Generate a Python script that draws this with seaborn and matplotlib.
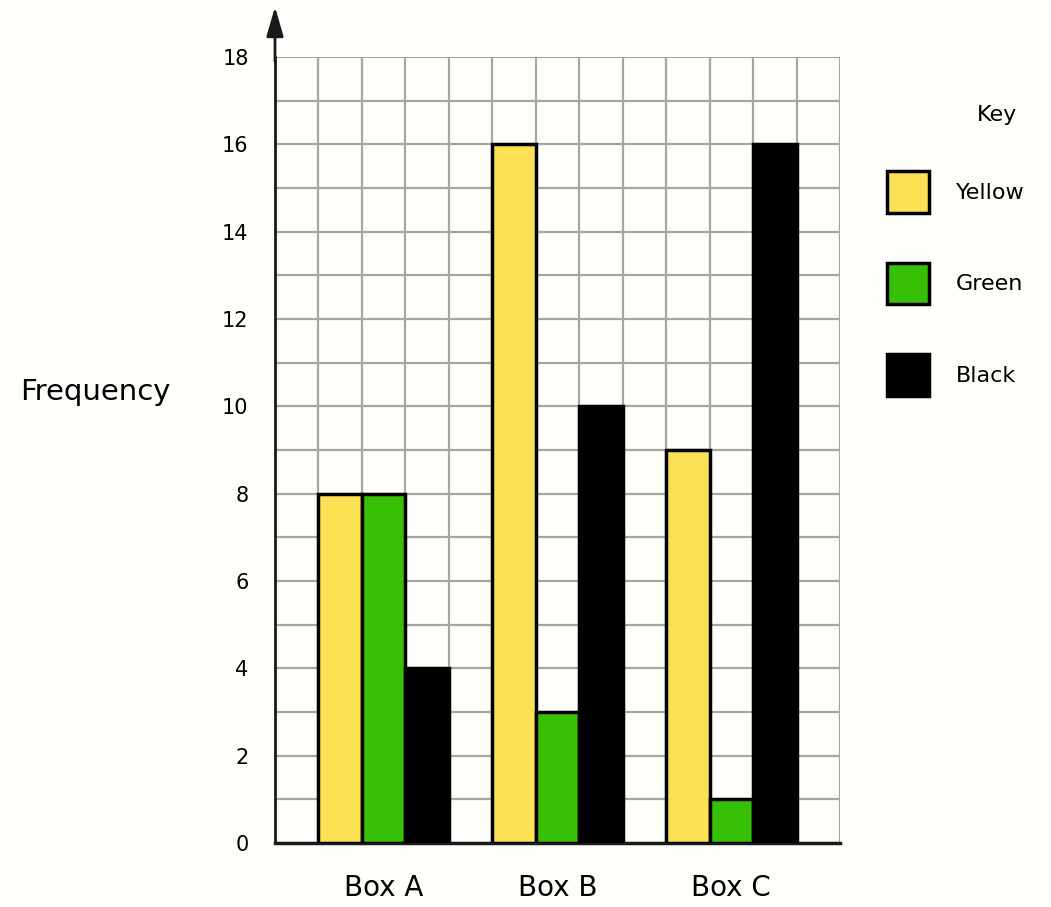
import numpy as np
import pandas as pd
import matplotlib
matplotlib.use('Agg')
import matplotlib.pyplot as plt
from matplotlib.patches import Patch
import seaborn as sns

# Data
boxes = ['Box A', 'Box B', 'Box C']
colours = ['Yellow', 'Green', 'Black']
yellow_counts = [8, 16, 9]
green_counts = [8, 3, 1]
black_counts = [4, 10, 16]
y_ticks = [0, 2, 4, 6, 8, 10, 12, 14, 16, 18]

df = pd.DataFrame({
    'Box': boxes * 3,
    'Colour': [c for c in colours for _ in boxes],
    'Frequency': yellow_counts + green_counts + black_counts,
})

palette = {'Yellow': '#FDE154', 'Green': '#38C006', 'Black': '#000000'}
bg = '#FEFEFB'

sns.set_style('white')
plt.rcParams['font.family'] = ['DejaVu Sans']
plt.rcParams['text.color'] = 'black'
plt.rcParams['xtick.color'] = 'black'
plt.rcParams['ytick.color'] = 'black'

fig = plt.figure(figsize=(10.51, 9.07), dpi=100, facecolor=bg)
ax = fig.add_axes([275 / 1051, 64 / 907, 565 / 1051, 786 / 907])
ax.set_facecolor(bg)

sns.barplot(data=df, x='Box', y='Frequency', hue='Colour', order=boxes,
            hue_order=colours, palette=palette, width=0.75, saturation=1,
            edgecolor='black', linewidth=2.5, legend=False, ax=ax, zorder=3)

# one grid square = one bar width = 0.25 category units
ax.set_xlim(-0.625, 2.625)
ax.set_ylim(0, 18)
ax.set_xticks(np.arange(-0.625, 2.626, 0.25), minor=True)
ax.set_yticks(range(0, 19), minor=True)
ax.set_yticks(y_ticks)
ax.grid(which='minor', color='#A6A6A6', linewidth=1.6, zorder=0)
ax.grid(which='major', axis='y', color='#A6A6A6', linewidth=1.6, zorder=0)
ax.grid(which='major', axis='x', visible=False)
ax.set_axisbelow(True)

ax.tick_params(which='both', length=0)
ax.tick_params(axis='y', labelsize=15, pad=19, labelcolor='black')
ax.tick_params(axis='x', labelsize=20, pad=22, labelcolor='black')
ax.set_xlabel('')
ax.set_ylabel('')

for s in ['top', 'right']:
    ax.spines[s].set_visible(False)
ax.spines['left'].set_color('#1a1a1a')
ax.spines['left'].set_linewidth(2)
ax.spines['bottom'].set_color('#1a1a1a')
ax.spines['bottom'].set_linewidth(2.5)

# arrow at the top of the y axis
ax.annotate('', xy=(-0.625, 19.15), xytext=(-0.625, 17.9),
            arrowprops=dict(arrowstyle='-|>,head_length=0.9,head_width=0.26',
                            color='#1a1a1a', lw=2, mutation_scale=20,
                            shrinkA=0, shrinkB=0),
            annotation_clip=False)

fig.text(95 / 1051, 1 - 392 / 907, 'Frequency', fontsize=21,
         ha='center', va='center', color='black')

# Key
fig.text(997 / 1051, 1 - 115 / 907, 'Key', fontsize=16, ha='center',
         va='center', color='black')
handles = [Patch(facecolor=palette[c], edgecolor='black', linewidth=2.5)
           for c in colours]
fig.legend(handles, colours, loc='upper left',
           bbox_to_anchor=(887 / 1051, 1 - 171 / 907), frameon=False,
           fontsize=16, handlelength=1.9, handleheight=2.5,
           handletextpad=1.2, labelspacing=2.25, borderpad=0,
           borderaxespad=0, labelcolor='black')

fig.savefig('out.png', dpi=100, facecolor=bg)
